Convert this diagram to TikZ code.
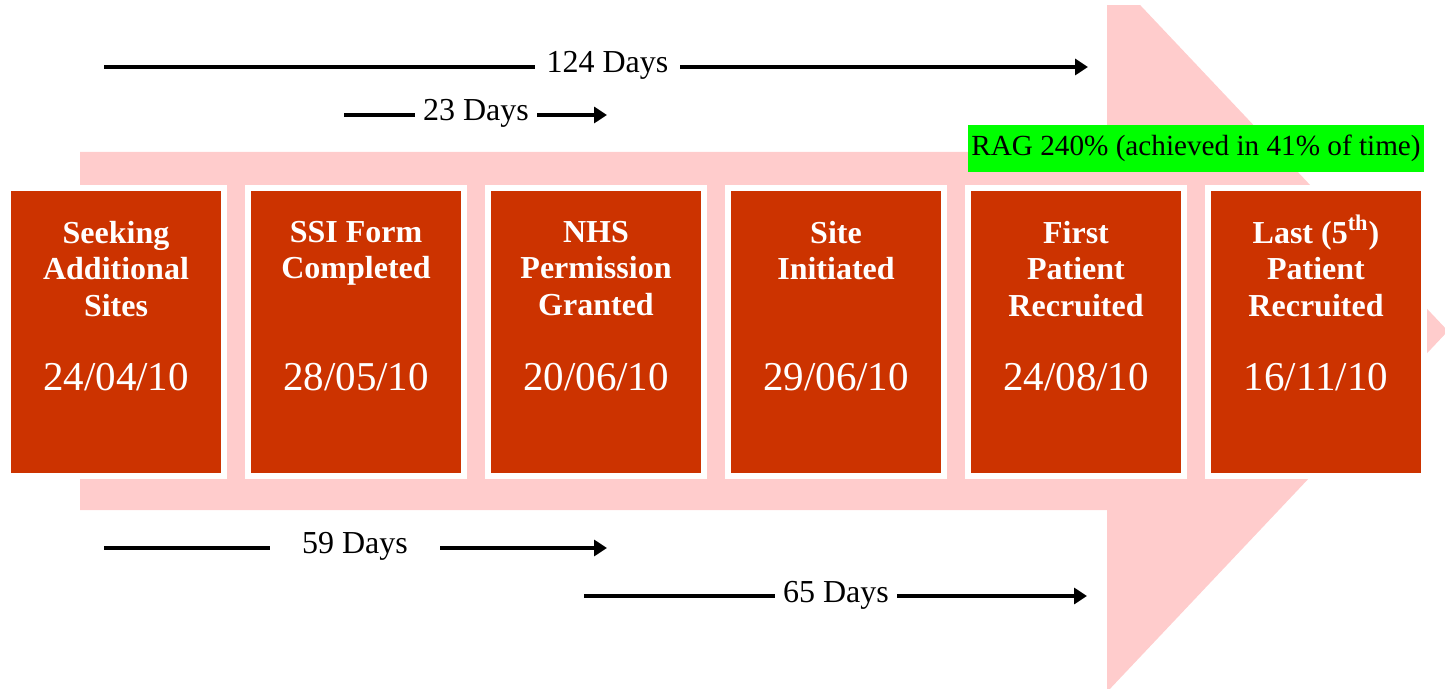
\documentclass[tikz,border=0pt]{standalone}
\usepackage{fontspec}
\setmainfont{Liberation Serif}
\usetikzlibrary{arrows.meta, positioning}
\definecolor{stagered}{HTML}{CC3300}
\definecolor{arrowpink}{HTML}{FFCCCC}
\definecolor{raggreen}{HTML}{00FF00}
\tikzset{
  stage/.style={fill=stagered, draw=white, line width=3pt, minimum width=108pt, minimum height=144pt, inner sep=0pt, outer sep=0pt},
  stagetitle/.style={text=white, font=\fontsize{16}{18.3}\bfseries, align=center, inner sep=0pt, outer sep=0pt, execute at begin node={\rule{0pt}{12.8pt}}},
  stagedate/.style={text=white, font=\fontsize{20.5}{24}\selectfont, anchor=base, inner sep=0pt},
  span/.style={line width=2pt, black},
  spanto/.style={span, -{Triangle[length=6.5pt, width=8pt]}},
  spanlabel/.style={font=\fontsize{16}{19}\selectfont, anchor=base, inner sep=0pt},
  rag/.style={fill=raggreen, minimum width=228pt, minimum height=23.5pt, inner sep=0pt, font=\fontsize{14.6}{17}\selectfont}
}

\begin{document}
\begin{tikzpicture}[x=0.5pt, y=-0.5pt]
  \useasboundingbox (0,0) rectangle (1445,689);

  % big pink arrow behind the stages
  \begin{scope}
    \clip (0,6) rectangle (1445,689);
    \fill[arrowpink] (80,152) -- (1107,152) -- (1107,-30) -- (1448,331) -- (1107,692) -- (1107,510) -- (80,510) -- cycle;
  \end{scope}

  % stages
  \node[stage] (seek) at (116,332) {};
  \node[stage, right=12pt of seek] (ssi) {};
  \node[stage, right=12pt of ssi] (nhs) {};
  \node[stage, right=12pt of nhs] (site) {};
  \node[stage, right=12pt of site] (first) {};
  \node[stage, right=12pt of first] (last) {};

  \node[stagetitle, below=16.5pt of seek.north]  (seektitle)  {Seeking\\Additional\\Sites};
  \node[stagetitle, below=16.5pt of ssi.north]   (ssititle)   {SSI Form\\Completed};
  \node[stagetitle, below=16.5pt of nhs.north]   (nhstitle)   {NHS\\Permission\\Granted};
  \node[stagetitle, below=16.5pt of site.north]  (sitetitle)  {Site\\Initiated};
  \node[stagetitle, below=16.5pt of first.north] (firsttitle) {First\\Patient\\Recruited};
  \node[stagetitle, below=16.5pt of last.north]  (lasttitle)  {Last (5\smash{\textsuperscript{th}})\\Patient\\Recruited};

  \node[stagedate] (seekdate)  at ([yshift=-29.5pt]seek.center)  {24/04/10};
  \node[stagedate] (ssidate)   at ([yshift=-29.5pt]ssi.center)   {28/05/10};
  \node[stagedate] (nhsdate)   at ([yshift=-29.5pt]nhs.center)   {20/06/10};
  \node[stagedate] (sitedate)  at ([yshift=-29.5pt]site.center)  {29/06/10};
  \node[stagedate] (firstdate) at ([yshift=-29.5pt]first.center) {24/08/10};
  \node[stagedate] (lastdate)  at ([yshift=-29.5pt]last.center)  {16/11/10};

  \node[rag] (rag) at (1196,148.5) {RAG 240\% (achieved in 41\% of time)};

  % day spans
  \coordinate (s124) at (104,67);  \coordinate (e124) at (1088,67);
  \coordinate (s23)  at (344,115); \coordinate (e23)  at (607,115);
  \coordinate (s59)  at (104,548); \coordinate (e59)  at (607,548);
  \coordinate (s65)  at (584,596); \coordinate (e65)  at (1087,596);

  \node[spanlabel, minimum width=72.5pt] (l124) at (607.5,73) {124 Days};
  \node[spanlabel, minimum width=61pt]   (l23)  at (476,121)  {23 Days};
  \node[spanlabel, minimum width=85pt]   (l59)  at (355,553)  {59 Days};
  \node[spanlabel, minimum width=61pt]   (l65)  at (836,602)  {65 Days};

  \draw[span]   (s124) -- (l124.west |- s124);
  \draw[spanto] (l124.east |- s124) -- (e124);
  \draw[span]   (s23) -- (l23.west |- s23);
  \draw[spanto] (l23.east |- s23) -- (e23);
  \draw[span]   (s59) -- (l59.west |- s59);
  \draw[spanto] (l59.east |- s59) -- (e59);
  \draw[span]   (s65) -- (l65.west |- s65);
  \draw[spanto] (l65.east |- s65) -- (e65);
\end{tikzpicture}
\end{document}
